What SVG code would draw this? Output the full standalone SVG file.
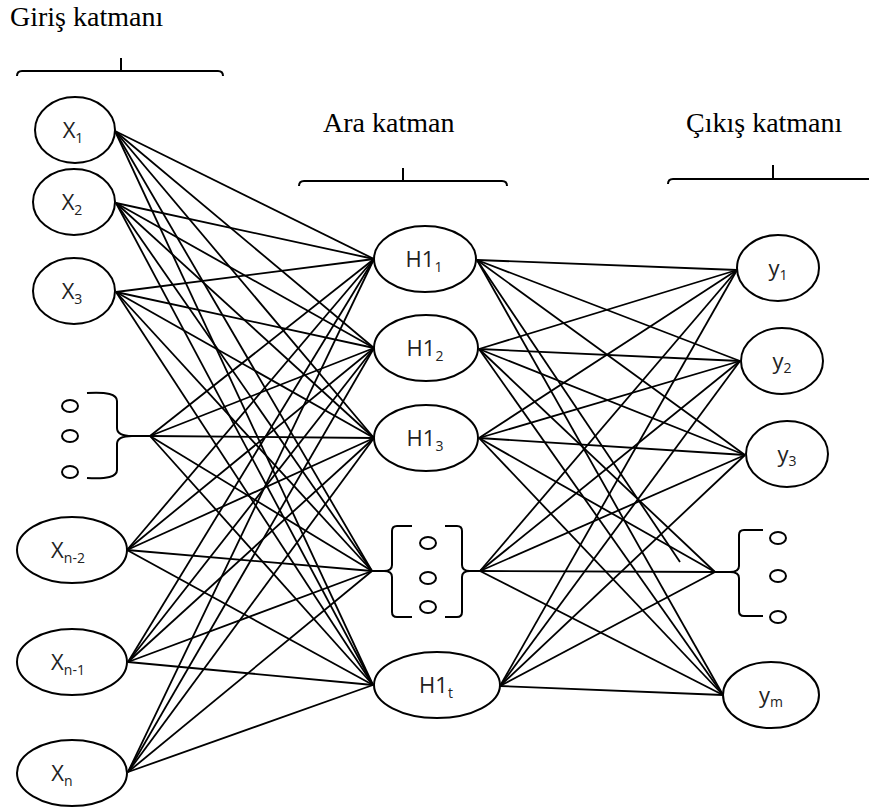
<svg xmlns="http://www.w3.org/2000/svg" width="869" height="812" viewBox="0 0 869 812">
  <style>
    .node { fill: #ffffff; stroke: #000000; stroke-width: 2; }
    .dot { fill: none; stroke: #000000; stroke-width: 2; }
    .brace { fill: none; stroke: #000000; stroke-width: 2; stroke-linejoin: round; }
    .edge line { stroke: #000000; stroke-width: 1.8; }
    .title { font-family: "Liberation Serif", "Times New Roman", serif; font-size: 28px; fill: #000000; }
    .lbl { font-family: "Open Sans", "Noto Sans", sans-serif; font-size: 22px; fill: #222222; text-anchor: middle; }
    .sub { font-size: 14px; }
  </style>

  <rect x="0" y="0" width="869" height="812" fill="#ffffff"/>

  <!-- layer headings with their brackets -->
  <g id="layer-input">
    <text class="title" x="10" y="26">Giriş katmanı</text>
    <path class="brace" d="M17,76 Q17,71 22,71 L218,71 Q223,71 223,76 M121,58 V71"/>
  </g>
  <g id="layer-hidden">
    <text class="title" x="323" y="132">Ara katman</text>
    <path class="brace" d="M299,186 Q299,181 304,181 L502,181 Q507,181 507,186 M403,168 V181"/>
  </g>
  <g id="layer-output">
    <text class="title" x="686" y="132">Çıkış katmanı</text>
    <path class="brace" d="M668,184 Q668,179 673,179 L869,179 M773,165 V179"/>
  </g>

  <!-- connections -->
  <g id="connectors" class="edge">
    <!-- input layer to hidden layer -->
    <line x1="115" y1="131" x2="374" y2="259"/>
    <line x1="115" y1="131" x2="374" y2="348"/>
    <line x1="115" y1="131" x2="374" y2="438"/>
    <line x1="115" y1="131" x2="372" y2="571"/>
    <line x1="115" y1="131" x2="373" y2="685"/>
    <line x1="116" y1="203" x2="374" y2="259"/>
    <line x1="116" y1="203" x2="374" y2="348"/>
    <line x1="116" y1="203" x2="374" y2="438"/>
    <line x1="116" y1="203" x2="372" y2="571"/>
    <line x1="116" y1="203" x2="373" y2="685"/>
    <line x1="116" y1="292" x2="374" y2="259"/>
    <line x1="116" y1="292" x2="374" y2="348"/>
    <line x1="116" y1="292" x2="374" y2="438"/>
    <line x1="116" y1="292" x2="372" y2="571"/>
    <line x1="116" y1="292" x2="373" y2="685"/>
    <line x1="150" y1="436" x2="374" y2="259"/>
    <line x1="150" y1="436" x2="374" y2="348"/>
    <line x1="150" y1="436" x2="374" y2="438"/>
    <line x1="150" y1="436" x2="372" y2="571"/>
    <line x1="150" y1="436" x2="373" y2="685"/>
    <line x1="127" y1="550" x2="374" y2="259"/>
    <line x1="127" y1="550" x2="374" y2="348"/>
    <line x1="127" y1="550" x2="374" y2="438"/>
    <line x1="127" y1="550" x2="372" y2="571"/>
    <line x1="127" y1="550" x2="373" y2="685"/>
    <line x1="128" y1="662" x2="374" y2="259"/>
    <line x1="128" y1="662" x2="374" y2="348"/>
    <line x1="128" y1="662" x2="374" y2="438"/>
    <line x1="128" y1="662" x2="372" y2="571"/>
    <line x1="128" y1="662" x2="373" y2="685"/>
    <line x1="128" y1="772" x2="374" y2="259"/>
    <line x1="128" y1="772" x2="374" y2="348"/>
    <line x1="128" y1="772" x2="374" y2="438"/>
    <line x1="128" y1="772" x2="372" y2="571"/>
    <line x1="128" y1="772" x2="373" y2="685"/>
    <!-- hidden layer to output layer -->
    <line x1="477" y1="260" x2="737" y2="270"/>
    <line x1="477" y1="260" x2="740" y2="361"/>
    <line x1="477" y1="260" x2="745" y2="455"/>
    <line x1="477" y1="260" x2="680" y2="562"/>
    <line x1="477" y1="260" x2="723" y2="695"/>
    <line x1="479" y1="349" x2="737" y2="270"/>
    <line x1="479" y1="349" x2="740" y2="361"/>
    <line x1="479" y1="349" x2="745" y2="455"/>
    <line x1="479" y1="349" x2="715" y2="572"/>
    <line x1="479" y1="349" x2="723" y2="695"/>
    <line x1="479" y1="438" x2="737" y2="270"/>
    <line x1="479" y1="438" x2="740" y2="361"/>
    <line x1="479" y1="438" x2="745" y2="455"/>
    <line x1="479" y1="438" x2="715" y2="572"/>
    <line x1="479" y1="438" x2="723" y2="695"/>
    <line x1="480" y1="571" x2="737" y2="270"/>
    <line x1="480" y1="571" x2="740" y2="361"/>
    <line x1="480" y1="571" x2="745" y2="455"/>
    <line x1="480" y1="571" x2="715" y2="572"/>
    <line x1="480" y1="571" x2="723" y2="695"/>
    <line x1="500" y1="686" x2="737" y2="270"/>
    <line x1="500" y1="686" x2="740" y2="361"/>
    <line x1="500" y1="686" x2="745" y2="455"/>
    <line x1="500" y1="686" x2="715" y2="572"/>
    <line x1="500" y1="686" x2="723" y2="695"/>
  </g>

  <!-- input layer -->
  <g id="x1">
    <ellipse class="node" cx="75" cy="130" rx="40" ry="33"/>
    <text class="lbl" x="73" y="138">X<tspan class="sub" dy="5">1</tspan></text>
  </g>
  <g id="x2">
    <ellipse class="node" cx="74" cy="202" rx="41" ry="33"/>
    <text class="lbl" x="72" y="210">X<tspan class="sub" dy="5">2</tspan></text>
  </g>
  <g id="x3">
    <ellipse class="node" cx="74" cy="291" rx="41" ry="33"/>
    <text class="lbl" x="72" y="299">X<tspan class="sub" dy="5">3</tspan></text>
  </g>
  <g id="x-more">
    <ellipse class="dot" cx="70" cy="406" rx="8" ry="6"/>
    <ellipse class="dot" cx="70" cy="436" rx="8" ry="6"/>
    <ellipse class="dot" cx="70" cy="472" rx="8" ry="6"/>
    <path class="brace" d="M87,393 Q117,391 117,401 L117,428 Q117,436 132,436 L150,436 M132,436 Q117,436 117,444 L117,470 Q117,480 87,478"/>
  </g>
  <g id="xn-2">
    <ellipse class="node" cx="72" cy="550" rx="55" ry="33"/>
    <text class="lbl" x="68" y="558">X<tspan class="sub" dy="5">n-2</tspan></text>
  </g>
  <g id="xn-1">
    <ellipse class="node" cx="72" cy="662" rx="55" ry="33"/>
    <text class="lbl" x="68" y="670">X<tspan class="sub" dy="5">n-1</tspan></text>
  </g>
  <g id="xn">
    <ellipse class="node" cx="72" cy="773" rx="55" ry="33"/>
    <text class="lbl" x="62" y="781">X<tspan class="sub" dy="5">n</tspan></text>
  </g>

  <!-- hidden layer -->
  <g id="h1-1">
    <ellipse class="node" cx="425" cy="259" rx="51" ry="33"/>
    <text class="lbl" x="424" y="267">H1<tspan class="sub" dy="5">1</tspan></text>
  </g>
  <g id="h1-2">
    <ellipse class="node" cx="426" cy="348" rx="52" ry="33"/>
    <text class="lbl" x="425" y="356">H1<tspan class="sub" dy="5">2</tspan></text>
  </g>
  <g id="h1-3">
    <ellipse class="node" cx="426" cy="438" rx="52" ry="33"/>
    <text class="lbl" x="425" y="446">H1<tspan class="sub" dy="5">3</tspan></text>
  </g>
  <g id="h-more">
    <ellipse class="dot" cx="428" cy="543" rx="8" ry="6"/>
    <ellipse class="dot" cx="428" cy="578" rx="8" ry="6"/>
    <ellipse class="dot" cx="428" cy="607" rx="8" ry="6"/>
    <path class="brace" d="M412,526 L397,526 Q392,526 392,531 L392,565 Q392,571 384,571 L372,571 M384,571 Q392,571 392,577 L392,612 Q392,617 397,617 L412,617"/>
    <path class="brace" d="M445,526 L457,526 Q462,526 462,531 L462,565 Q462,571 470,571 L480,571 M470,571 Q462,571 462,577 L462,612 Q462,617 457,617 L445,617"/>
  </g>
  <g id="h1-t">
    <ellipse class="node" cx="437" cy="685" rx="63" ry="33"/>
    <text class="lbl" x="436" y="693">H1<tspan class="sub" dy="5">t</tspan></text>
  </g>

  <!-- output layer -->
  <g id="y1">
    <ellipse class="node" cx="778" cy="268" rx="41" ry="33"/>
    <text class="lbl" x="778" y="276">y<tspan class="sub" dy="4">1</tspan></text>
  </g>
  <g id="y2">
    <ellipse class="node" cx="782" cy="361" rx="41" ry="33"/>
    <text class="lbl" x="782" y="369">y<tspan class="sub" dy="4">2</tspan></text>
  </g>
  <g id="y3">
    <ellipse class="node" cx="787" cy="454" rx="41" ry="33"/>
    <text class="lbl" x="787" y="462">y<tspan class="sub" dy="4">3</tspan></text>
  </g>
  <g id="y-more">
    <ellipse class="dot" cx="778" cy="538" rx="8" ry="6"/>
    <ellipse class="dot" cx="778" cy="576" rx="8" ry="6"/>
    <ellipse class="dot" cx="778" cy="617" rx="8" ry="6"/>
    <path class="brace" d="M763,530 L744,530 Q739,530 739,535 L739,566 Q739,572 730,572 L715,572 M730,572 Q739,572 739,578 L739,611 Q739,616 744,616 L763,616"/>
  </g>
  <g id="ym">
    <ellipse class="node" cx="771" cy="695" rx="48" ry="33"/>
    <text class="lbl" x="771" y="703">y<tspan class="sub" dy="4">m</tspan></text>
  </g>
</svg>
